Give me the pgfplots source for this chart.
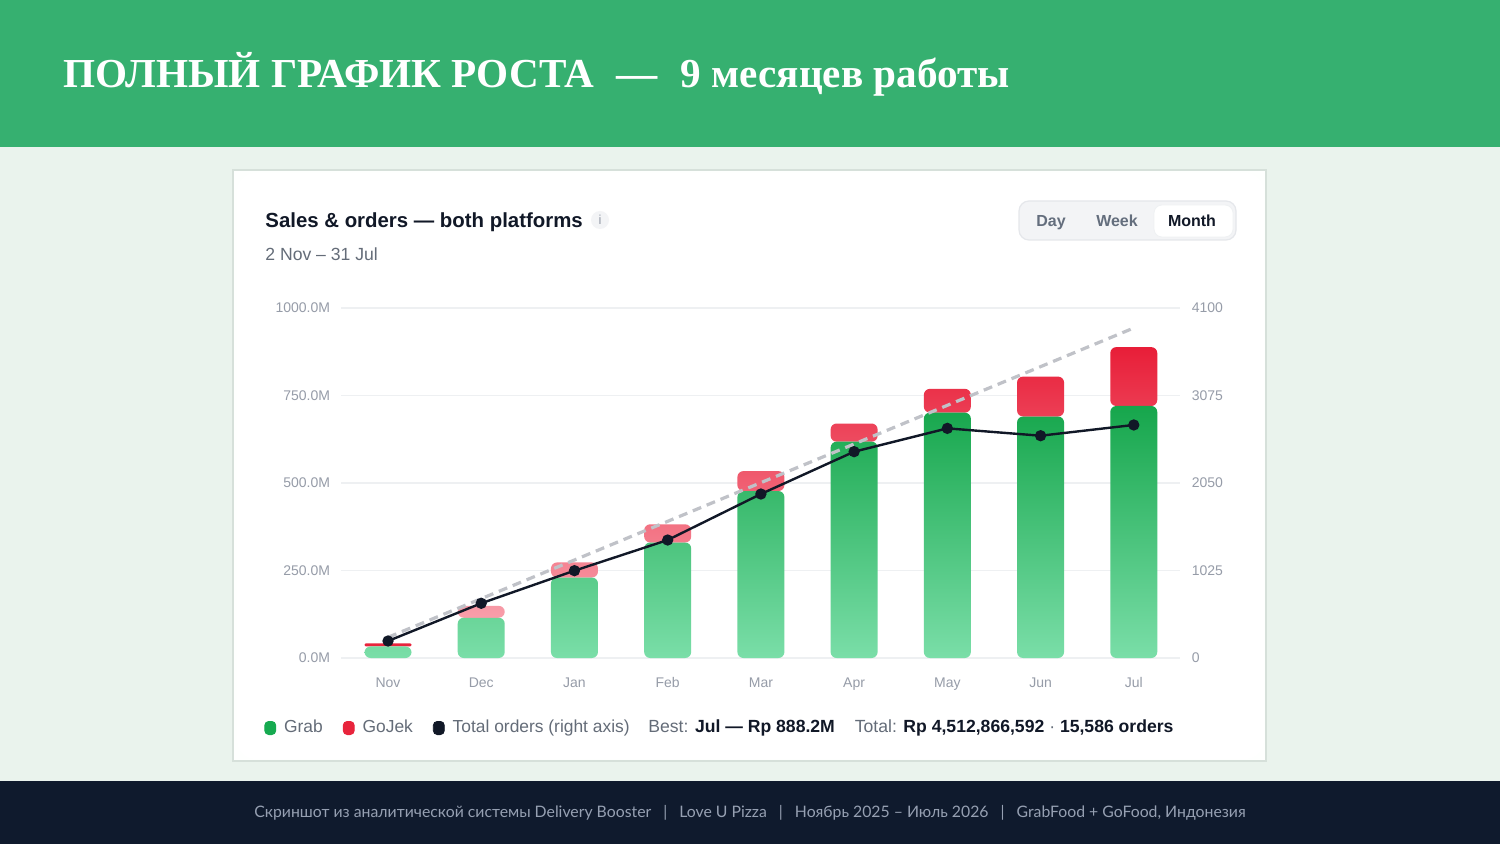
\documentclass[border=0pt]{standalone}
\usepackage{fontspec}
\setmainfont{Liberation Sans}
\newfontfamily\titlefont{Liberation Serif}
\newfontfamily\footfont{Lato}
\usepackage{pgfplots}
\pgfplotsset{compat=1.18}
\pgfplotsset{/pgf/number format/assume math mode=true}

\definecolor{headgreen}{RGB}{54,176,112}
\definecolor{pagebg}{RGB}{234,243,237}
\definecolor{footbg}{RGB}{15,26,45}
\definecolor{footc}{RGB}{150,160,178}
\definecolor{cardline}{RGB}{214,224,218}
\definecolor{titlec}{RGB}{17,24,39}
\definecolor{subc}{RGB}{100,108,120}
\definecolor{tickc}{RGB}{150,156,168}
\definecolor{gridc}{RGB}{238,240,242}
\definecolor{grabtop}{RGB}{22,166,76}
\definecolor{grabbot}{RGB}{122,222,168}
\definecolor{grabc}{RGB}{22,170,80}
\definecolor{gojtop}{RGB}{232,30,56}
\definecolor{gojbot}{RGB}{248,158,170}
\definecolor{gojc}{RGB}{232,36,60}
\definecolor{navy}{RGB}{17,24,39}
\definecolor{dashc}{RGB}{192,194,200}
\definecolor{segbg}{RGB}{243,244,246}
\definecolor{segline}{RGB}{229,231,235}
\definecolor{segtxt}{RGB}{100,110,125}

\begin{document}
\begin{tikzpicture}
\begin{scope}[x=0.5pt,y=-0.5pt]
  % page bands
  \fill[headgreen] (0,0) rectangle (1500,147);
  \fill[pagebg] (0,147) rectangle (1500,781);
  \fill[footbg] (0,781) rectangle (1500,844);
  \node[anchor=base west, inner sep=0, text=white,
        font=\titlefont\bfseries\fontsize{20.6}{25}\selectfont]
        at (63,88) {ПОЛНЫЙ ГРАФИК РОСТА\hspace{0.55em}—\hspace{0.55em}9 месяцев работы};
  \node[anchor=base, inner sep=0, text=footc, font=\footfont\fontsize{7.9}{9}\selectfont] at (750,817)
        {Скриншот из аналитической системы Delivery Booster\hspace{6pt}|\hspace{6pt}Love U Pizza\hspace{6pt}|\hspace{6pt}Ноябрь 2025 – Июль 2026\hspace{6pt}|\hspace{6pt}GrabFood + GoFood, Индонезия};
  % card
  \filldraw[fill=white!97!pagebg, draw=cardline, line width=0.6pt] (233,170) rectangle (1266,761);
  \fill[white, rounded corners=9pt] (237,173) rectangle (1264,759);
  % card header
  \node[anchor=base west, inner sep=0, text=titlec, font=\bfseries\fontsize{10.2}{12}\selectfont]
        at (265,228) {Sales \& orders — both platforms};
  \fill[segbg] (600,220) circle (9);
  \node[inner sep=0, text=tickc, font=\fontsize{6.5}{7}\selectfont] at (600,220) {i};
  \node[anchor=base west, inner sep=0, text=subc, font=\fontsize{8.8}{10}\selectfont]
        at (265,261) {2 Nov – 31 Jul};
  % period switch
  \filldraw[fill=segbg, draw=segline, line width=0.6pt, rounded corners=5pt] (1019,201) rectangle (1236,240);
  \filldraw[fill=white, draw=segline!60, line width=0.4pt, rounded corners=4pt] (1154,205) rectangle (1233,237);
  \node[anchor=base, inner sep=0, text=segtxt, font=\bfseries\fontsize{8}{9}\selectfont] at (1051,227) {Day};
  \node[anchor=base, inner sep=0, text=segtxt, font=\bfseries\fontsize{8}{9}\selectfont] at (1117,227) {Week};
  \node[anchor=base, inner sep=0, text=titlec, font=\bfseries\fontsize{8}{9}\selectfont] at (1192,227) {Month};
  % summary next to legend
  \node[anchor=base west, inner sep=0, font=\fontsize{8.8}{10}\selectfont] at (648,732)
        {\textcolor{subc}{Best:} \textcolor{titlec}{\bfseries Jul — Rp 888.2M}\hspace{10pt}\textcolor{subc}{Total:} \textcolor{titlec}{\bfseries Rp 4,512,866,592 \textmd{\textcolor{subc}{·}} 15,586 orders}};
\end{scope}

% sales (left axis)
\begin{axis}[
    at={(170.7pt,-329pt)}, anchor=south west,
    scale only axis, width=419.5pt, height=175pt,
    xmin=-0.5, xmax=8.5, ymin=0, ymax=1000,
    ybar stacked, bar width=23.5pt,
    xtick={0,...,8},
    xticklabels={Nov,Dec,Jan,Feb,Mar,Apr,May,Jun,Jul},
    ytick={0,250,500,750,1000},
    yticklabel={\pgfmathprintnumber[fixed,fixed zerofill,precision=1,1000 sep={}]{\tick}M},
    axis line style={draw=none}, major tick length=0pt,
    ymajorgrids, grid style={gridc, line width=0.6pt},
    tick label style={font=\fontsize{7}{8}\selectfont, text=tickc},
    yticklabel style={anchor=east, inner sep=0pt, xshift=-5.5pt},
    xticklabel style={anchor=base, inner sep=0pt, yshift=-14.5pt},
    legend columns=3,
    legend style={at={(-0.0923,-0.2)}, anchor=west, draw=none, fill=none,
        inner sep=0pt, font=\fontsize{8.7}{10}\selectfont, text=subc,
        nodes={inner xsep=4pt, inner ysep=1pt},
        /tikz/every even column/.append style={column sep=6pt}},
]
\addplot[forget plot, draw=none, top color=grabtop, bottom color=grabbot, rounded corners=3pt]
    coordinates {(0,33) (1,115) (2,230) (3,330) (4,477) (5,618) (6,701) (7,690) (8,720)};
% GoJek, November sliver kept apart so its small height takes a small radius
\addplot[forget plot, draw=none, fill=gojc, rounded corners=0.7pt]
    coordinates {(0,9) (1,0) (2,0) (3,0) (4,0) (5,0) (6,0) (7,0) (8,0)};
\addplot[forget plot, draw=none, top color=gojtop, bottom color=gojbot, rounded corners=3pt]
    coordinates {(0,0) (1,34) (2,43) (3,52) (4,57) (5,52) (6,68) (7,114) (8,168.2)};
\addlegendimage{legend image code/.code={\fill[grabc, rounded corners=2pt] (0pt,-3.3pt) rectangle (5.5pt,3.3pt);}}
\addlegendentry{Grab}
\addlegendimage{legend image code/.code={\fill[gojc, rounded corners=2pt] (0pt,-3.3pt) rectangle (5.5pt,3.3pt);}}
\addlegendentry{GoJek}
\addlegendimage{legend image code/.code={\fill[navy, rounded corners=2pt] (0pt,-3.3pt) rectangle (5.5pt,3.3pt);}}
\addlegendentry{Total orders (right axis)}
\end{axis}

% orders (right axis)
\begin{axis}[
    at={(170.7pt,-329pt)}, anchor=south west,
    scale only axis, width=419.5pt, height=175pt,
    xmin=-0.5, xmax=8.5, ymin=0, ymax=4100,
    hide x axis, axis y line*=right,
    axis line style={draw=none}, major tick length=0pt,
    ytick={0,1025,2050,3075,4100},
    /pgf/number format/1000 sep={},
    tick label style={font=\fontsize{7}{8}\selectfont, text=tickc},
    yticklabel style={anchor=west, inner sep=0pt, xshift=5.5pt},
]
% linear trend of total sales, in order units (1000M = 4100)
\addplot[dashc, line width=1.6pt, dash pattern=on 4.5pt off 3pt] coordinates {(0,242) (8,3866)};
\addplot[navy, line width=1.2pt, mark=*, mark size=2.2pt, mark options={fill=navy}]
    coordinates {(0,199) (1,641) (2,1023) (3,1382) (4,1921) (5,2417) (6,2690) (7,2604) (8,2730)};
\end{axis}
\end{tikzpicture}
\end{document}
